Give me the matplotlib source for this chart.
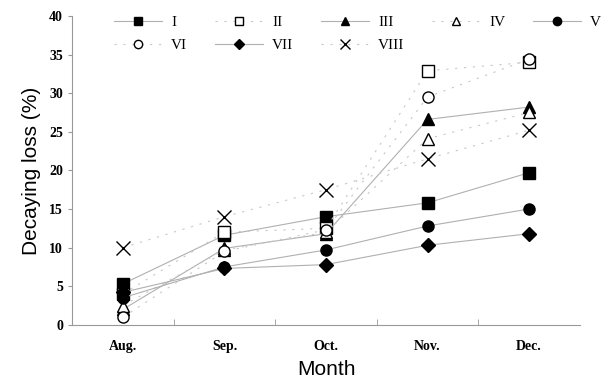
import numpy as np
import matplotlib
matplotlib.use("Agg")
import matplotlib.pyplot as plt

months = ["Aug.", "Sep.", "Oct.", "Nov.", "Dec."]
names = ["I", "II", "III", "IV", "V", "VI", "VII", "VIII"]

s1 = [5.3, 11.6, 14.0, 15.8, 19.7]
s2 = [4.0, 12.0, 12.5, 32.9, 34.0]
s3 = [2.0, 9.9, 11.8, 26.6, 28.2]
s4 = [2.5, 9.7, 12.0, 24.1, 27.5]
s5 = [3.5, 7.5, 9.7, 12.8, 15.0]
s6 = [1.0, 9.5, 12.3, 29.5, 34.4]
s7 = [4.2, 7.3, 7.8, 10.3, 11.8]
s8 = [10.0, 14.0, 17.5, 21.5, 25.2]
series = [s1, s2, s3, s4, s5, s6, s7, s8]

markers = ["s", "s", "^", "^", "o", "o", "D", "x"]
filled = [True, False, True, False, True, False, True, False]

fig = plt.figure(figsize=(6.06, 3.89), dpi=100)
ax = fig.add_axes([0.119, 0.165, 0.838, 0.794])

x = np.arange(len(months))
handles = []
for i, ys in enumerate(series):
    if filled[i]:
        ls, lc, fc = "-", "#b0b0b0", "black"
    else:
        ls, lc, fc = (0, (2, 6)), "#c8c8c8", "white"
    ms = 7 if markers[i] == "D" else 8
    if markers[i] == "x":
        ms = 10
    h, = ax.plot(x, ys, linestyle=ls, color=lc, linewidth=0.8,
                 marker=markers[i], markersize=ms, markerfacecolor=fc,
                 markeredgecolor="black", markeredgewidth=1.0, label=names[i])
    handles.append(h)

ax.set_xlim(-0.5, 4.5)
ax.set_ylim(0, 40)
ax.set_yticks(range(0, 41, 5))
ax.set_xticks(x)
ax.set_xticklabels(months)
ax.set_xticks(np.arange(0.5, 4.5, 1), minor=True)
ax.tick_params(axis="x", which="major", length=0, pad=11)
ax.tick_params(axis="x", which="minor", length=4, color="#999999", direction="in")
ax.tick_params(axis="y", length=3, color="#999999", direction="out")
for lab in ax.get_xticklabels() + ax.get_yticklabels():
    lab.set_fontfamily("Liberation Serif")
    lab.set_fontweight("bold")
    lab.set_fontsize(10)

for side in ["top", "right"]:
    ax.spines[side].set_visible(False)
for side in ["left", "bottom"]:
    ax.spines[side].set_color("#999999")
    ax.spines[side].set_linewidth(0.8)

ax.set_xlabel("Month", fontfamily="Liberation Sans", fontsize=15, labelpad=5)
ax.set_ylabel("Decaying loss (%)", fontfamily="Liberation Sans", fontsize=15, labelpad=6)

# legend fills column-wise; reorder so rows read I..V then VI..VIII
order = [0, 5, 1, 6, 2, 7, 3, 4]
leg = ax.legend([handles[k] for k in order], [names[k] for k in order],
                ncol=5, loc="upper left", bbox_to_anchor=(0.055, 1.045),
                frameon=False, handlelength=3.15, columnspacing=1.8,
                handletextpad=0.6, labelspacing=0.6, markerscale=0.75,
                prop={"family": "Liberation Serif", "size": 11})

fig.savefig("out.png", dpi=100)
